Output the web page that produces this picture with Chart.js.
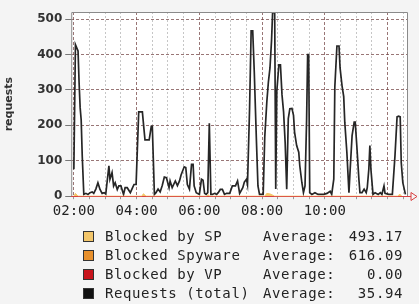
<!DOCTYPE html>
<html>
<head>
<meta charset="utf-8">
<script src="https://cdn.jsdelivr.net/npm/chart.js@4/dist/chart.umd.min.js"></script>
<style>
    html, body { margin: 0; padding: 0; background: #f4f4f4; }
    #wrap { position: relative; width: 419px; height: 304px; overflow: hidden; }
    #chart { position: absolute; left: 0; top: 0; }
    .row { position: absolute; left: 0; width: 419px; height: 19px; line-height: 19px; font-family: "DejaVu Sans Mono", monospace; font-size: 14px; letter-spacing: 0.6px; color: #222; }
    .sq { position: absolute; left: 83px; top: 4px; width: 9px; height: 9px; border: 1px solid #333; }
    .lbl { position: absolute; left: 105px; }
    .avg { position: absolute; left: 263px; }
    .val { position: absolute; right: 16px; }
</style>
</head>
<body>
<div id="wrap">
    <canvas id="chart" width="419" height="304"></canvas>
    <div id="legend"></div>
</div>
<script>
// Dati (orario, richieste)
var times = ['02:00', '02:03', '02:08', '02:10', '02:12', '02:14', '02:16', '02:19', '02:23', '02:27',
    '02:31', '02:35', '02:38', '02:42', '02:46', '02:50', '02:54', '02:58', '03:01', '03:07',
    '03:09', '03:13', '03:16', '03:19', '03:23', '03:26', '03:30', '03:35', '03:38', '03:42',
    '03:48', '03:51', '03:55', '03:59', '04:04', '04:07', '04:11', '04:14', '04:16', '04:20',
    '04:24', '04:28', '04:30', '04:34', '04:37', '04:41', '04:45', '04:49', '04:53', '04:57',
    '05:02', '05:04', '05:08', '05:14', '05:18', '05:22', '05:25', '05:31', '05:34', '05:37',
    '05:41', '05:45', '05:48', '05:50', '05:54', '06:00', '06:04', '06:07', '06:10', '06:13',
    '06:16', '06:19', '06:22', '06:25', '06:29', '06:33', '06:36', '06:40', '06:44', '06:48',
    '06:52', '06:58', '07:03', '07:09', '07:13', '07:17', '07:23', '07:26', '07:30', '07:32',
    '07:36', '07:39', '07:42', '07:45', '07:47', '07:49', '07:52', '07:55', '07:59', '08:02',
    '08:05', '08:09', '08:12', '08:15', '08:18', '08:20', '08:24', '08:26', '08:28', '08:32',
    '08:35', '08:38', '08:41', '08:44', '08:47', '08:50', '08:53', '08:57', '09:00', '09:02',
    '09:06', '09:10', '09:12', '09:16', '09:19', '09:22', '09:25', '09:27', '09:29', '09:31',
    '09:35', '09:41', '09:47', '09:52', '09:58', '10:04', '10:10', '10:13', '10:17', '10:19',
    '10:23', '10:27', '10:29', '10:33', '10:36', '10:38', '10:42', '10:46', '10:48', '10:52',
    '10:56', '10:58', '11:01', '11:05', '11:07', '11:11', '11:15', '11:19', '11:21', '11:24',
    '11:26', '11:28', '11:32', '11:36', '11:42', '11:46', '11:49', '11:53', '11:55', '12:02',
    '12:09', '12:14', '12:18', '12:21', '12:24', '12:26', '12:29', '12:34'];

var requests = [76, 428, 410, 320, 250, 215, 114, 5, 8, 5,
    10, 12, 8, 20, 38, 19, 8, 10, 6, 86,
    48, 67, 29, 38, 19, 29, 29, 5, 24, 24,
    10, 20, 33, 33, 238, 238, 238, 190, 159, 159,
    159, 197, 197, 5, 10, 20, 12, 30, 54, 52,
    24, 43, 24, 43, 30, 43, 60, 83, 81, 33,
    20, 90, 90, 29, 10, 5, 48, 45, 8, 5,
    10, 206, 5, 5, 8, 5, 10, 19, 19, 5,
    8, 8, 29, 29, 43, 8, 24, 40, 48, 33,
    248, 467, 467, 350, 254, 160, 29, 5, 5, 5,
    167, 267, 323, 362, 440, 518, 518, 20, 295, 371,
    371, 286, 238, 152, 20, 219, 247, 248, 228, 181,
    143, 124, 86, 38, 10, 29, 214, 400, 400, 10,
    5, 10, 5, 5, 5, 8, 14, 5, 48, 309,
    424, 424, 362, 309, 281, 209, 124, 10, 67, 171,
    209, 209, 143, 48, 10, 10, 20, 10, 24, 76,
    143, 76, 5, 10, 5, 10, 5, 29, 8, 5,
    5, 114, 224, 226, 224, 95, 38, 5];

// Piccole aree "Blocked by SP" sulla linea dello zero
var spTimes = ['02:00', '02:03', '02:08', '04:10', '04:13', '04:18', '06:14', '06:17', '06:20',
    '08:05', '08:09', '08:16', '08:24', '12:20', '12:23', '12:27'];
var spValues = [0, 8, 0, 0, 7, 0, 0, 4, 0, 0, 8, 6, 0, 0, 6, 0];

var tickLabels = ['02:00', '04:00', '06:00', '08:00', '10:00'];

var legendNames = ['Blocked by SP', 'Blocked Spyware', 'Blocked by VP', 'Requests (total)'];
var legendColors = ['#f3c66a', '#e8902c', '#c8141c', '#111111'];
var legendAverages = ['493.17', '616.09', '0.00', '35.94'];

function toMinutes(t) { // 'HH:MM' -> minuti dalla mezzanotte
    var p = t.split(':');
    return parseInt(p[0], 10) * 60 + parseInt(p[1], 10);
}

function toLabel(m) { // minuti -> 'HH:MM'
    var h = Math.floor(m / 60);
    var mm = m % 60;
    return (h < 10 ? '0' : '') + h + ':' + (mm < 10 ? '0' : '') + mm;
}

function makePoints(tArr, vArr) {
    var pts = [];
    for (var i = 0; i < tArr.length; i++) {
        pts.push({ x: toMinutes(tArr[i]), y: vArr[i] });
    }
    return pts;
}

var plotDecor = { // sfondo bianco, cornice e freccia dell'asse x
    id: 'plotDecor',
    beforeDraw: function (chart) {
        var a = chart.chartArea;
        var ctx = chart.ctx;
        ctx.save();
        ctx.fillStyle = '#ffffff';
        ctx.fillRect(a.left, a.top, a.right - a.left, a.bottom - a.top);
        ctx.restore();
    },
    afterDraw: function (chart) {
        var a = chart.chartArea;
        var ctx = chart.ctx;
        ctx.save();
        ctx.strokeStyle = '#8a8a8a';
        ctx.lineWidth = 1;
        ctx.beginPath();
        ctx.moveTo(a.left + 0.5, a.bottom);
        ctx.lineTo(a.left + 0.5, a.top + 0.5);
        ctx.lineTo(a.right + 0.5, a.top + 0.5);
        ctx.lineTo(a.right + 0.5, a.bottom);
        ctx.stroke();
        var y = Math.round(a.bottom) + 0.5;
        ctx.strokeStyle = '#d84040';
        ctx.beginPath();
        ctx.moveTo(a.right, y);
        ctx.lineTo(a.right + 4, y);
        ctx.moveTo(a.right + 4, y - 4);
        ctx.lineTo(a.right + 10, y);
        ctx.lineTo(a.right + 4, y + 4);
        ctx.closePath();
        ctx.stroke();
        ctx.restore();
    }
};

var ctx = document.getElementById('chart');
var chart = new Chart(ctx, {
    type: 'line',
    data: {
        datasets: [{
            label: 'Blocked by SP',
            data: makePoints(spTimes, spValues),
            borderColor: '#f3c66a',
            backgroundColor: '#f3c66a',
            borderWidth: 1,
            fill: 'origin',
            pointRadius: 0,
            tension: 0
        }, {
            label: 'Requests (total)',
            data: makePoints(times, requests),
            borderColor: '#262626',
            borderWidth: 1.7,
            fill: false,
            pointRadius: 0,
            tension: 0
        }]
    },
    options: {
        responsive: false,
        animation: false,
        layout: { padding: { left: 0, top: 12, right: 12, bottom: 80 } },
        plugins: { legend: { display: false }, tooltip: { enabled: false } },
        scales: {
            x: {
                type: 'linear',
                min: 115,
                max: 757,
                border: {
                    display: false,
                    dash: function (c) {
                        if (!c.tick) return [];
                        return c.tick.value % 120 === 0 ? [3, 2] : [2, 2];
                    }
                },
                grid: {
                    color: function (c) {
                        if (!c.tick) return '#999';
                        return c.tick.value % 120 === 0 ? 'rgba(110,60,60,0.7)' : 'rgba(160,160,160,0.6)';
                    },
                    lineWidth: 1,
                    tickLength: 3,
                    tickColor: '#999'
                },
                ticks: {
                    stepSize: 30,
                    includeBounds: false,
                    autoSkip: false,
                    maxRotation: 0,
                    padding: 4,
                    color: '#222',
                    font: { family: 'DejaVu Sans Mono', size: 14 },
                    callback: function (value) {
                        var lab = toLabel(value);
                        return tickLabels.indexOf(lab) >= 0 ? lab : '';
                    }
                }
            },
            y: {
                min: 0,
                max: 520,
                border: {
                    display: false,
                    dash: function (c) {
                        if (!c.tick) return [];
                        return c.tick.value === 0 ? [] : [3, 2];
                    }
                },
                grid: {
                    color: function (c) {
                        if (!c.tick) return '#999';
                        return c.tick.value === 0 ? '#d84040' : 'rgba(110,60,60,0.7)';
                    },
                    lineWidth: 1,
                    tickLength: 6,
                    tickColor: '#777'
                },
                ticks: {
                    stepSize: 100,
                    includeBounds: false,
                    padding: 3,
                    color: '#333',
                    font: { family: 'DejaVu Sans', size: 12, weight: 'bold' }
                },
                title: {
                    display: true,
                    text: 'requests',
                    color: '#333',
                    padding: { top: 3, bottom: 18 },
                    font: { family: 'DejaVu Sans', size: 11, weight: 'bold' }
                }
            }
        }
    },
    plugins: [plotDecor]
});

// Legenda in HTML sotto il grafico
var legend = document.getElementById('legend');
for (var i = 0; i < legendNames.length; i++) {
    var row = document.createElement('div');
    row.className = 'row';
    row.style.top = (227 + i * 19) + 'px';
    row.innerHTML = '<span class="sq" style="background:' + legendColors[i] + '"></span>' +
        '<span class="lbl">' + legendNames[i] + '</span>' +
        '<span class="avg">Average:</span>' +
        '<span class="val">' + legendAverages[i] + '</span>';
    legend.appendChild(row);
}
</script>
</body>
</html>
